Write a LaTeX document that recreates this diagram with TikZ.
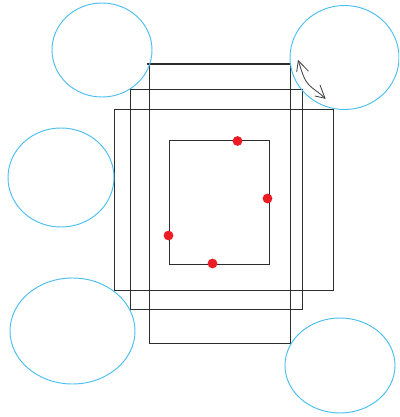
\documentclass[tikz,border=0pt]{standalone}
\definecolor{bluering}{RGB}{75,190,240}
\definecolor{reddot}{RGB}{237,28,36}
\definecolor{frameline}{RGB}{45,45,45}
\definecolor{arrowline}{RGB}{60,60,60}
\tikzset{
  ring/.style={draw=bluering,line width=0.95pt},
  frame/.style={draw=frameline,line width=0.95pt},
  dot/.style={fill=reddot,draw=none},
  hand/.style={draw=arrowline,line width=0.8pt,line cap=round,line join=round}
}
\begin{document}
\begin{tikzpicture}[x=1pt,y=-1pt]
\useasboundingbox (0,0) rectangle (399,417);
\clip (0,0) rectangle (399,417);
% frames
\draw[frame] (149,64) rectangle (290.5,343);
\draw[frame] (130.5,89.5) rectangle (302.5,309.5);
\draw[frame] (114.5,109.5) rectangle (333.5,290.5);
\draw[frame] (169.5,140.5) rectangle (269,264);
\draw[frame,line width=1.5pt] (147,64) -- (290.5,64);
% circles
\draw[ring] (102,50) ellipse (50 and 47);
\draw[ring] (344.5,57.5) ellipse (54.5 and 52);
\draw[ring] (61,177.5) ellipse (53 and 49.5);
\draw[ring] (72.5,331) ellipse (62.5 and 53);
\draw[ring] (340,365.5) ellipse (55 and 47.5);
% dots
\fill[dot] (237.5,141) circle (4.9);
\fill[dot] (267.5,198.5) circle (4.9);
\fill[dot] (168.5,235.5) circle (4.9);
\fill[dot] (212.5,263.5) circle (4.9);
% double arrow
\draw[hand] (298.3,60.7) .. controls (302,72) and (304,80) .. (309,85) .. controls (314,90) and (320,93) .. (325,98.3);
\draw[hand] (296.7,71.7) -- (298.3,60.7) -- (308.3,71);
\draw[hand] (320,85) -- (325,98.3) -- (315,96);
\end{tikzpicture}
\end{document}
